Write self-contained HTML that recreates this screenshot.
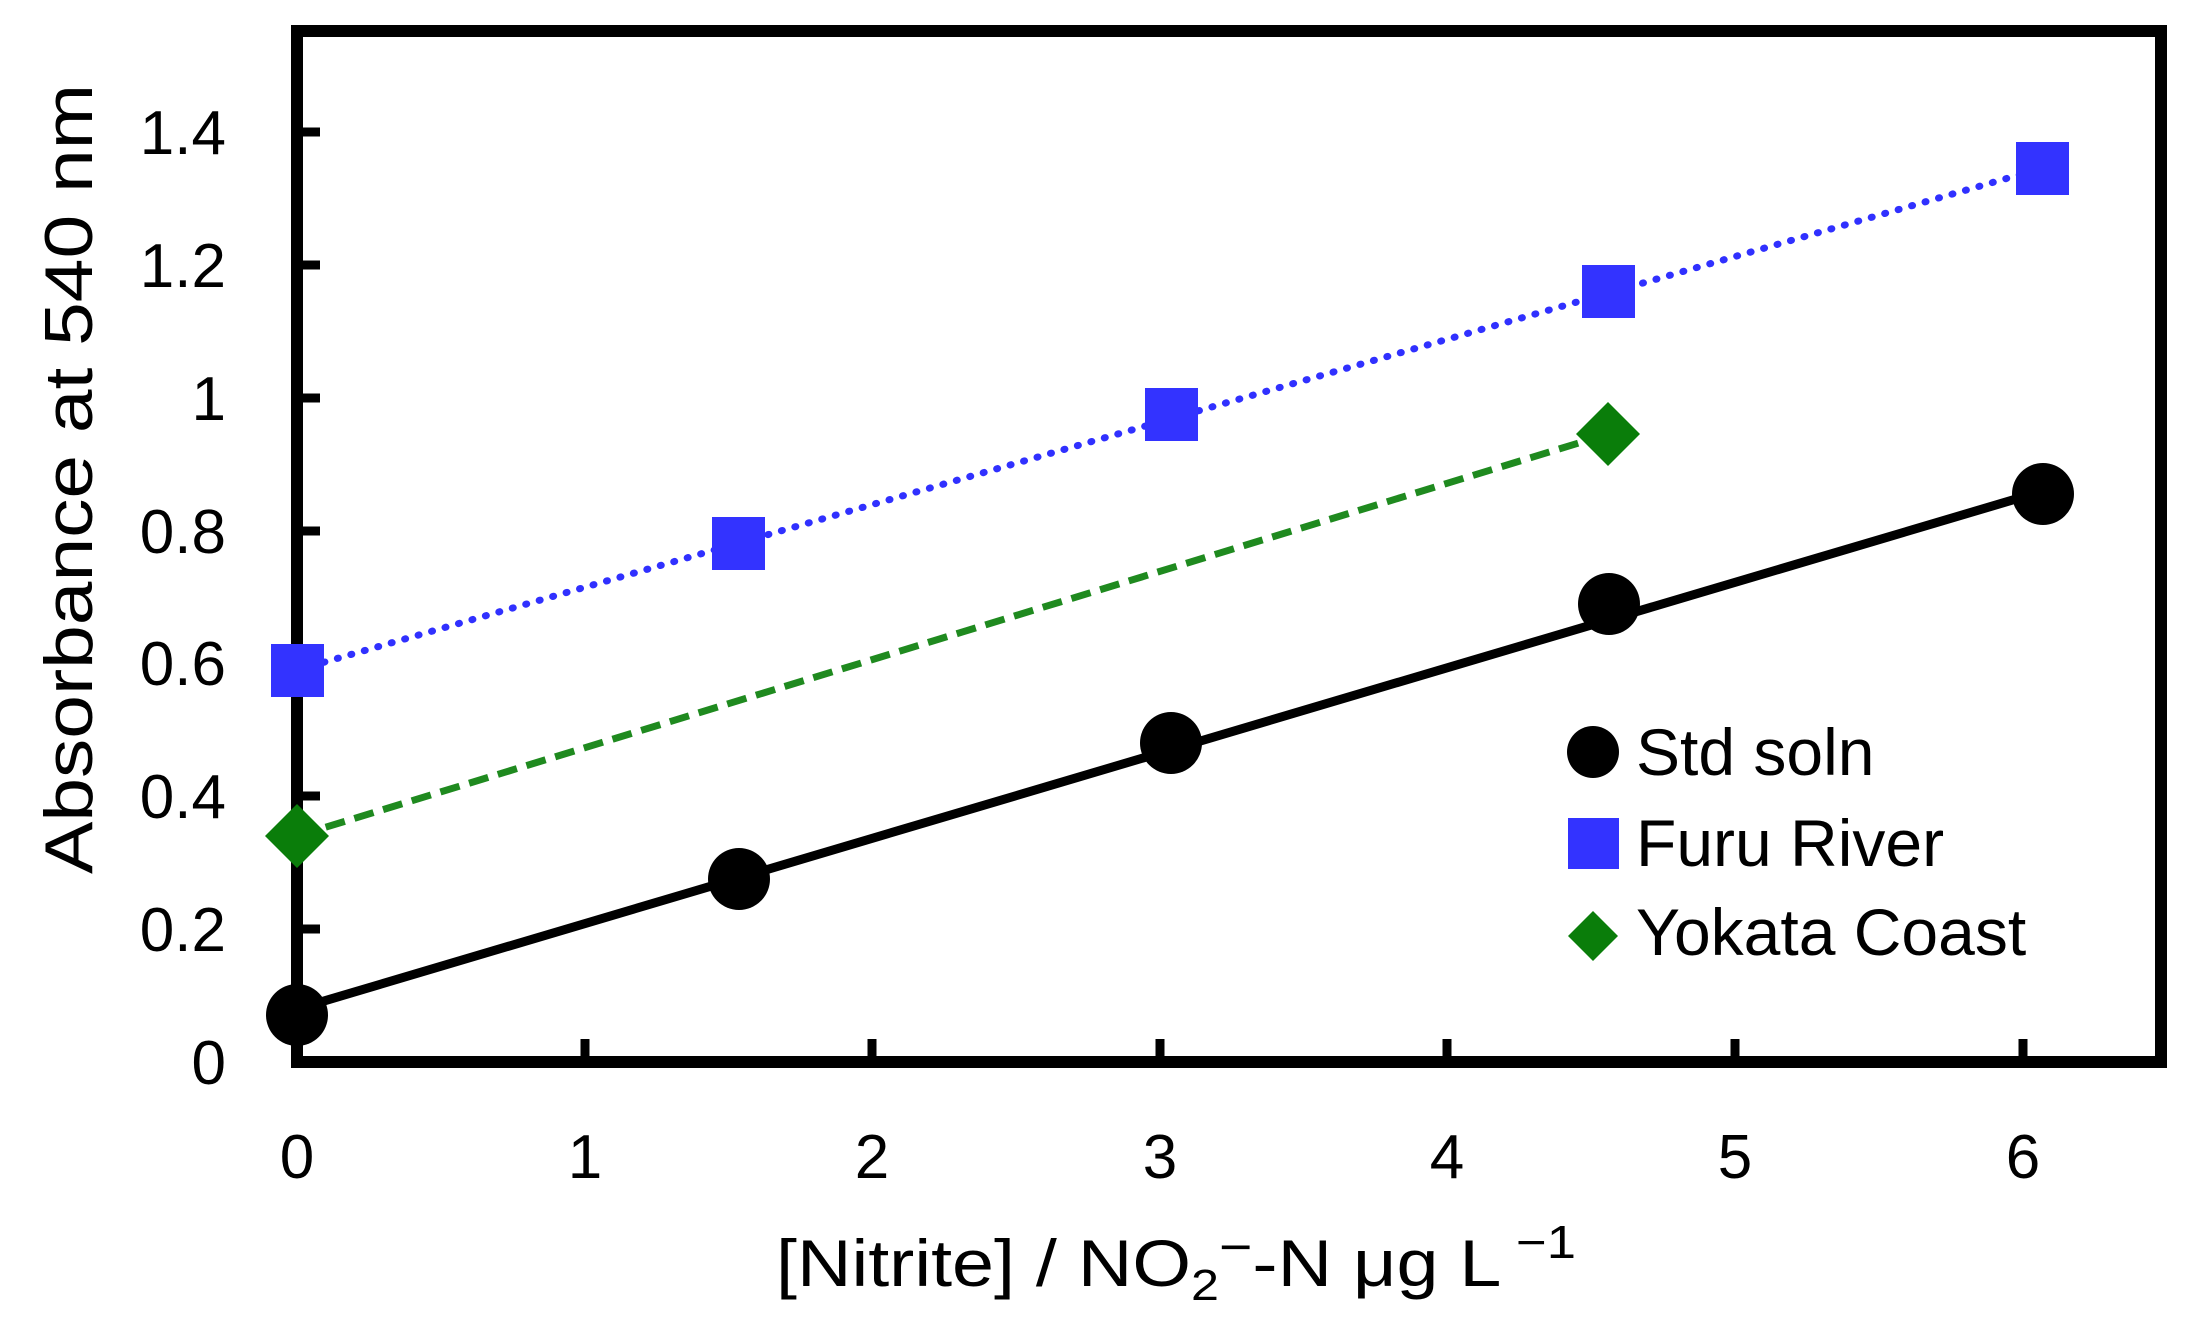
<!DOCTYPE html>
<html><head><meta charset="utf-8"><style>
html,body{margin:0;padding:0;background:#fff;}
svg{display:block;}
text{font-family:"Liberation Sans Narrow","Liberation Sans",sans-serif;fill:#000;}
</style></head><body>
<svg width="2190" height="1332" viewBox="0 0 2190 1332" xmlns="http://www.w3.org/2000/svg">
<rect width="2190" height="1332" fill="#fff"/>
<line x1="297" y1="1009" x2="2043" y2="491" stroke="#000" stroke-width="9"/>
<line x1="297" y1="836" x2="1608" y2="434" stroke="#1f8a1f" stroke-width="7" stroke-dasharray="20,10"/>
<line x1="297" y1="670" x2="2043" y2="168" stroke="#3030ff" stroke-width="7" stroke-dasharray="1,13" stroke-linecap="round"/>
<rect x="297" y="31" width="1864" height="1031" fill="none" stroke="#000" stroke-width="12"/>
<g stroke="#000" stroke-width="9">
<line x1="297" y1="929" x2="320" y2="929"/>
<line x1="297" y1="796" x2="320" y2="796"/>
<line x1="297" y1="663" x2="320" y2="663"/>
<line x1="297" y1="531" x2="320" y2="531"/>
<line x1="297" y1="398" x2="320" y2="398"/>
<line x1="297" y1="265" x2="320" y2="265"/>
<line x1="297" y1="132" x2="320" y2="132"/>
<line x1="585" y1="1062" x2="585" y2="1039"/>
<line x1="872" y1="1062" x2="872" y2="1039"/>
<line x1="1160" y1="1062" x2="1160" y2="1039"/>
<line x1="1447" y1="1062" x2="1447" y2="1039"/>
<line x1="1735" y1="1062" x2="1735" y2="1039"/>
<line x1="2023" y1="1062" x2="2023" y2="1039"/>
</g>
<g font-size="62" text-anchor="end">
<text x="226" y="1084">0</text>
<text x="226" y="951">0.2</text>
<text x="226" y="818">0.4</text>
<text x="226" y="685">0.6</text>
<text x="226" y="553">0.8</text>
<text x="226" y="420">1</text>
<text x="226" y="287">1.2</text>
<text x="226" y="154">1.4</text>
</g>
<g font-size="62" text-anchor="middle">
<text x="297" y="1178">0</text>
<text x="585" y="1178">1</text>
<text x="872" y="1178">2</text>
<text x="1160" y="1178">3</text>
<text x="1447" y="1178">4</text>
<text x="1735" y="1178">5</text>
<text x="2023" y="1178">6</text>
</g>
<g fill="#000">
<circle cx="297" cy="1015" r="31"/>
<circle cx="739" cy="879" r="31"/>
<circle cx="1171" cy="743" r="31"/>
<circle cx="1609" cy="604" r="31"/>
<circle cx="2043" cy="494" r="31"/>
</g>
<g fill="#3333ff">
<rect x="271" y="644" width="53" height="53"/>
<rect x="712" y="517" width="53" height="53"/>
<rect x="1145" y="388" width="53" height="53"/>
<rect x="1582" y="265" width="53" height="53"/>
<rect x="2016" y="142" width="53" height="53"/>
</g>
<g fill="#0a7d0a">
<polygon points="297,804 329,836 297,868 265,836"/>
<polygon points="1608,402 1640,434 1608,466 1576,434"/>
</g>
<circle cx="1593" cy="752" r="26" fill="#000"/>
<rect x="1568" y="818" width="51" height="51" fill="#3333ff"/>
<polygon points="1593,911 1618,936 1593,961 1568,936" fill="#0a7d0a"/>
<g font-size="66">
<text x="1636" y="775">Std soln</text>
<text x="1636" y="866">Furu River</text>
<text x="1636" y="955">Yokata Coast</text>
</g>
<text transform="translate(92,479) rotate(-90)" font-size="68" text-anchor="middle" textLength="790" lengthAdjust="spacingAndGlyphs">Absorbance at 540 nm</text>
<text x="776" y="1286" font-size="66" textLength="800" lengthAdjust="spacingAndGlyphs">[Nitrite] / NO<tspan font-size="44" dy="14">2</tspan><tspan dy="-36" font-size="50">−</tspan><tspan dy="22">-N μg L</tspan><tspan font-size="46" dy="-28"> −1</tspan></text>
</svg>
</body></html>
